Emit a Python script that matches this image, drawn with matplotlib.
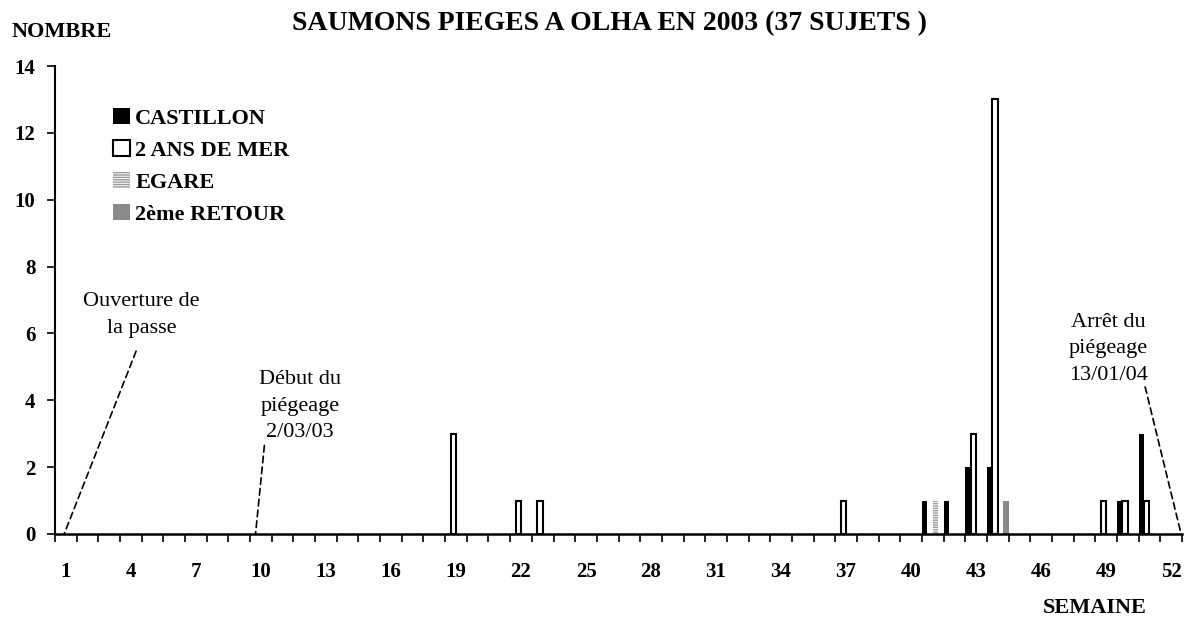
import matplotlib.pyplot as plt
import numpy as np

plt.rcParams['font.family'] = ['Liberation Serif', 'DejaVu Serif']

# Données (semaine, nombre)
semaines_castillon = [41, 42, 43, 44, 50, 51]
castillon = [1, 1, 2, 2, 1, 3]
semaines_2ans = [19, 22, 23, 37, 43, 44, 49, 50, 51]
deux_ans = [3, 1, 1, 1, 3, 13, 1, 1, 1]
semaines_egare = [41]
egare = [1]
semaines_retour = [44]
retour = [1]
etiquettes = list(range(1, 53, 3))

fig = plt.figure(figsize=(11.84, 6.21), dpi=100)
ax = fig.add_axes([0.0465, 0.1401, 0.9518, 0.7536])

larg = 0.25
ax.bar(np.array(semaines_castillon) - 1, castillon, larg, align='edge',
       color='black', label='CASTILLON')
ax.bar(np.array(semaines_2ans) - 1 + larg, deux_ans, larg, align='edge',
       facecolor='white', edgecolor='black', linewidth=1.5, label='2 ANS DE MER')
ax.bar(np.array(semaines_egare) - 1 + 2 * larg, egare, larg, align='edge',
       facecolor='white', edgecolor='#999999', hatch='-------', linewidth=0,
       label='EGARE')
ax.bar(np.array(semaines_retour) - 1 + 3 * larg, retour, larg, align='edge',
       color='#8a8a8a', label='2ème RETOUR')

ax.set_xlim(0, 52)
ax.set_ylim(0, 14)
for s in ['top', 'right']:
    ax.spines[s].set_visible(False)
ax.spines['left'].set_linewidth(1.5)
ax.spines['bottom'].set_linewidth(1.8)

# graduations entre les catégories, étiquettes au centre
ax.set_xticks(np.arange(0, 53))
ax.tick_params(axis='x', which='major', length=6, width=1.2, labelbottom=False)
ax.set_xticks(np.array(etiquettes) - 0.5, [str(e) for e in etiquettes], minor=True)
ax.tick_params(axis='x', which='minor', length=0, pad=20, labelsize=15)
ax.set_yticks(range(0, 15, 2))
ax.tick_params(axis='y', length=6, width=1.2, pad=8, labelsize=15)
for t in ax.get_xticklabels(minor=True) + ax.get_yticklabels():
    t.set_fontweight('bold')

leg = ax.legend(loc='upper left', bbox_to_anchor=(102 / 1184, 1 - 97 / 621),
                bbox_transform=fig.transFigure, frameon=False, borderpad=0,
                handlelength=0.75, handleheight=0.75, handletextpad=0.25,
                labelspacing=0.5, prop={'weight': 'bold', 'size': 16})

fig.text(610 / 1184, 1 - 24 / 621, 'SAUMONS PIEGES A OLHA EN 2003 (37 SUJETS )',
         ha='center', va='center', fontsize=20, fontweight='bold')
fig.text(62 / 1184, 1 - 32 / 621, 'NOMBRE', ha='center', va='center',
         fontsize=16, fontweight='bold')
fig.text(1095 / 1184, 1 - 608 / 621, 'SEMAINE', ha='center', va='center',
         fontsize=16, fontweight='bold')

# annotations
tirets = dict(arrowstyle='-', linestyle=(0, (4, 2.5)), lw=1.2, color='black',
              shrinkA=0, shrinkB=0)
ax.annotate('', xy=(0.42, 0), xytext=(3.74, 5.47), arrowprops=tirets,
            annotation_clip=False)
ax.text(3.98, 5.86, 'Ouverture de\nla passe', ha='center', va='bottom',
        fontsize=16, linespacing=1.55)

ax.annotate('', xy=(9.25, 0), xytext=(9.66, 2.65), arrowprops=tirets,
            annotation_clip=False)
ax.text(11.3, 2.74, 'Début du\npiégeage\n2/03/03', ha='center', va='bottom',
        fontsize=16, linespacing=1.55)

ax.annotate('', xy=(51.96, 0), xytext=(50.3, 4.4), arrowprops=tirets,
            annotation_clip=False)
ax.text(48.6, 4.46, 'Arrêt du\npiégeage\n13/01/04', ha='center', va='bottom',
        fontsize=16, linespacing=1.55)

fig.savefig('out.png', dpi=100)
